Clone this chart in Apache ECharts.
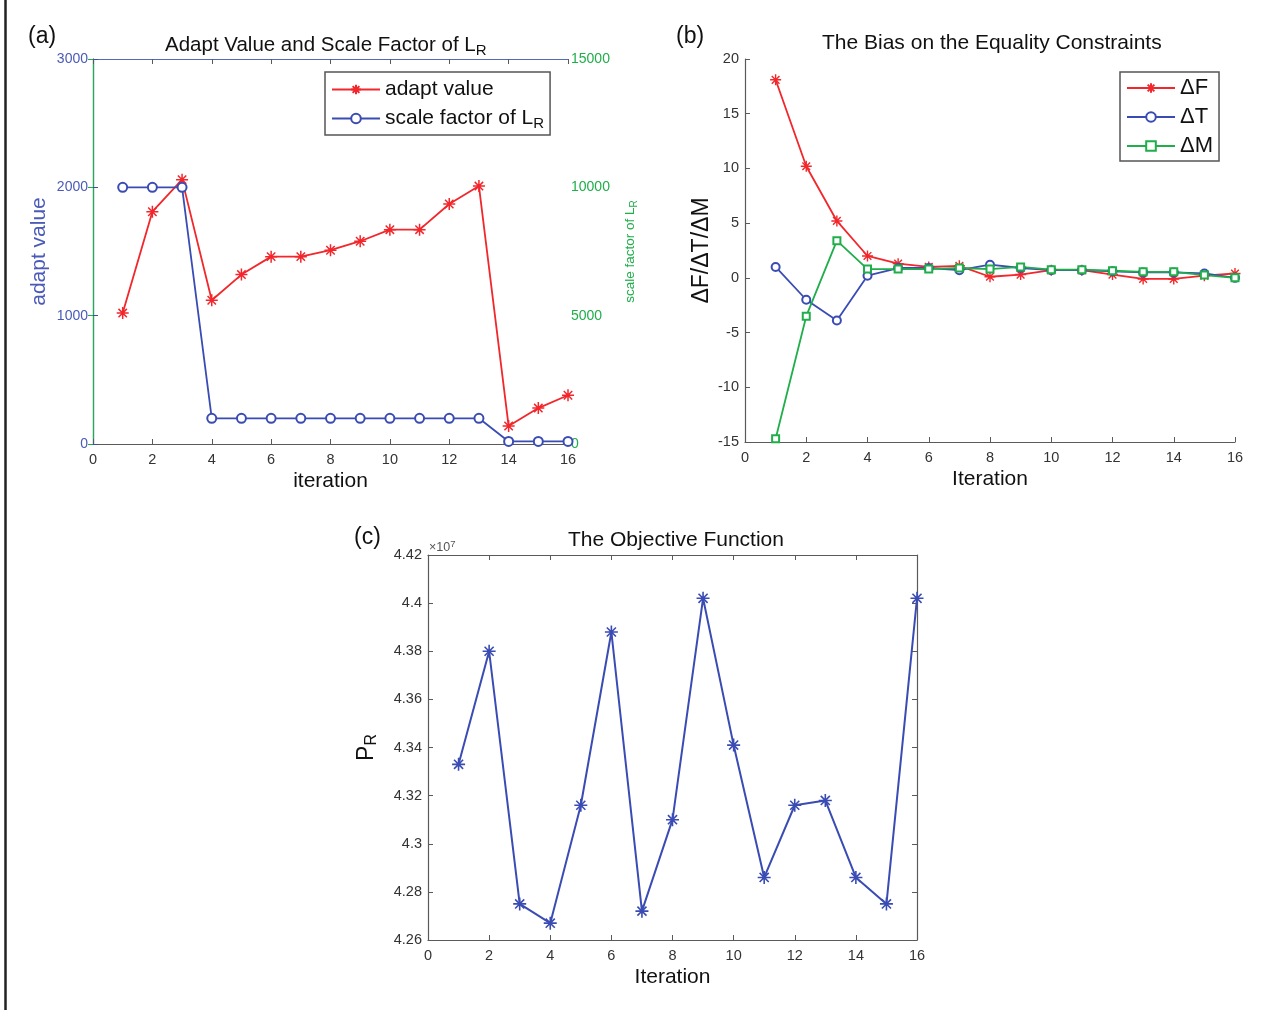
<!DOCTYPE html>
<html>
<head>
<meta charset="utf-8">
<script src="https://cdn.jsdelivr.net/npm/echarts@6/dist/echarts.min.js"></script>
<style>
  html, body { margin: 0; padding: 0; background: #fff; }
  #main { width: 1264px; height: 1010px; }
</style>
</head>
<body>
<div id="main"></div>
<script>
// iteration index shared by all three panels
const iterations = [1, 2, 3, 4, 5, 6, 7, 8, 9, 10, 11, 12, 13, 14, 15, 16];

// (a) adapt value (left axis) and scale factor of L_R (right axis)
const adaptValue = [1020, 1810, 2060, 1120, 1320, 1460, 1460, 1510, 1580, 1670, 1670, 1870, 2010, 140, 280, 380];
const scaleFactor = [10000, 10000, 10000, 1000, 1000, 1000, 1000, 1000, 1000, 1000, 1000, 1000, 1000, 100, 100, 100];

// (b) bias on the equality constraints
const deltaF = [18.1, 10.2, 5.2, 2.0, 1.3, 1.0, 1.1, 0.1, 0.3, 0.7, 0.7, 0.3, -0.1, -0.1, 0.2, 0.4];
const deltaT = [1.0, -2.0, -3.9, 0.2, 0.9, 0.9, 0.7, 1.2, 0.9, 0.7, 0.7, 0.6, 0.5, 0.5, 0.4, 0.0];
const deltaM = [-14.7, -3.5, 3.4, 0.8, 0.8, 0.8, 0.9, 0.8, 1.0, 0.75, 0.75, 0.65, 0.55, 0.55, 0.25, 0.0];

// (c) objective function P_R, in units of 10^7
const objective = [4.333, 4.380, 4.275, 4.267, 4.316, 4.388, 4.272, 4.310, 4.402, 4.341, 4.286, 4.316, 4.318, 4.286, 4.275, 4.402];

const RED = '#f2262b';
const BLUE = '#3a4cb4';
const GREEN = '#1fae4a';
const GRAY = '#5a5a5a';
const FONT = 'Liberation Sans, Arial, sans-serif';
const STAR = 'path://M0,5L10,5M5,0L5,10M1.5,1.5L8.5,8.5M1.5,8.5L8.5,1.5';

const pairs = vals => iterations.map((it, i) => [it, vals[i]]);

const chart = echarts.init(document.getElementById('main'));

function xAx(grid, opts) {
  return Object.assign({
    gridIndex: grid, type: 'value', min: 0, max: 16, interval: 2,
    axisLine: { onZero: false, lineStyle: { color: GRAY, width: 1.2 } },
    axisTick: { inside: true, length: 5, lineStyle: { color: GRAY } },
    axisLabel: { color: '#333', fontSize: 14.5, fontFamily: FONT, margin: 8 },
    splitLine: { show: false },
    nameLocation: 'middle', nameGap: 27,
    nameTextStyle: { color: '#111', fontSize: 21, fontFamily: FONT }
  }, opts);
}

const sub = {
  n: { fontSize: 21, fontFamily: FONT, color: '#111' },
  s: { fontSize: 15, fontFamily: FONT, color: '#111', padding: [10, 0, 0, 0] }
};

const option = {
  animation: false,
  backgroundColor: '#fff',
  textStyle: { fontFamily: FONT },
  title: [
    { text: '{n|Adapt Value and Scale Factor of L}{s|R}', left: 160, top: 27,
      textStyle: { rich: {
        n: { fontSize: 20.5, fontWeight: 'normal', fontFamily: FONT, color: '#111' },
        s: { fontSize: 15, fontWeight: 'normal', fontFamily: FONT, color: '#111', padding: [11, 0, 0, 0] } } } },
    { text: 'The Bias on the Equality Constraints', left: 817, top: 28,
      textStyle: { fontSize: 21, fontWeight: 'normal', color: '#111', fontFamily: FONT } },
    { text: 'The Objective Function', left: 563, top: 525,
      textStyle: { fontSize: 21, fontWeight: 'normal', color: '#111', fontFamily: FONT } }
  ],
  legend: [
    {
      data: ['adapt value', 'scale factor of L_R'],
      left: 325, top: 72, orient: 'vertical', selectedMode: false,
      itemWidth: 48, itemHeight: 12, itemGap: 8,
      padding: [7, 6, 4, 6],
      borderColor: '#555', borderWidth: 1.5, backgroundColor: '#fff',
      formatter: name => name === 'scale factor of L_R' ? '{n|scale factor of L}{s|R}' : '{n|' + name + '}',
      textStyle: { rich: sub }
    },
    {
      data: ['ΔF', 'ΔT', 'ΔM'],
      left: 1120, top: 72, orient: 'vertical', selectedMode: false,
      itemWidth: 48, itemHeight: 12, itemGap: 7,
      padding: [5, 6, 4, 6],
      borderColor: '#555', borderWidth: 1.5, backgroundColor: '#fff',
      textStyle: { fontSize: 22, color: '#111', fontFamily: FONT }
    }
  ],
  grid: [
    { left: 93, top: 59, width: 475, height: 385 },
    { left: 745, top: 59, width: 490, height: 383 },
    { left: 428, top: 555, width: 489, height: 385 }
  ],
  xAxis: [
    xAx(0, { name: 'iteration' }),
    xAx(0, { position: 'top', axisLabel: { show: false },
             axisLine: { onZero: false, lineStyle: { color: '#5868b8', width: 1.2 } } }),
    xAx(1, { name: 'Iteration' }),
    xAx(2, { name: 'Iteration' }),
    xAx(2, { position: 'top', axisLabel: { show: false } })
  ],
  yAxis: [
    {
      gridIndex: 0, type: 'value', min: 0, max: 3000, interval: 1000, position: 'left',
      axisLine: { show: true, lineStyle: { color: BLUE, width: 1.2 } },
      axisTick: { show: true, inside: true, length: 5, lineStyle: { color: BLUE } },
      axisLabel: { color: '#4a5ab8', fontSize: 14, fontFamily: FONT, margin: 5, formatter: v => String(v) },
      splitLine: { show: false },
      name: 'adapt value', nameLocation: 'middle', nameGap: 43,
      nameTextStyle: { color: '#4a5ab8', fontSize: 21, fontFamily: FONT }
    },
    {
      gridIndex: 0, type: 'value', min: 0, max: 15000, interval: 5000, position: 'right',
      axisLine: { show: true, lineStyle: { color: GREEN, width: 1.2 } },
      axisTick: { show: true, inside: true, length: 5, lineStyle: { color: GREEN } },
      axisLabel: { color: GREEN, fontSize: 14, fontFamily: FONT, margin: 3, formatter: v => String(v) },
      splitLine: { show: false },
      name: '{n|scale factor of L}{s|R}', nameLocation: 'middle', nameGap: 54,
      nameTextStyle: { rich: {
        n: { fontSize: 13.5, color: GREEN, fontFamily: FONT },
        s: { fontSize: 10, color: GREEN, fontFamily: FONT, padding: [7, 0, 0, 0] } } }
    },
    {
      gridIndex: 1, type: 'value', min: -15, max: 20, interval: 5,
      axisLine: { show: true, onZero: false, lineStyle: { color: GRAY, width: 1.2 } },
      axisTick: { show: true, inside: true, length: 5, lineStyle: { color: GRAY } },
      axisLabel: { color: '#333', fontSize: 14.5, fontFamily: FONT, margin: 6 },
      splitLine: { show: false },
      name: 'ΔF/ΔT/ΔM', nameLocation: 'middle', nameGap: 32,
      nameTextStyle: { color: '#111', fontSize: 23, fontFamily: FONT }
    },
    {
      gridIndex: 2, type: 'value', min: 4.26, max: 4.42, interval: 0.02,
      axisLine: { show: true, onZero: false, lineStyle: { color: GRAY, width: 1.2 } },
      axisTick: { show: true, inside: true, length: 5, lineStyle: { color: GRAY } },
      axisLabel: { color: '#333', fontSize: 14.5, fontFamily: FONT, margin: 6,
                   formatter: v => String(+v.toFixed(2)) },
      splitLine: { show: false },
      name: '{n|P}{s|R}', nameLocation: 'middle', nameGap: 48,
      nameTextStyle: { rich: {
        n: { fontSize: 23, color: '#111', fontFamily: FONT },
        s: { fontSize: 16, color: '#111', fontFamily: FONT, padding: [11, 0, 0, 0] } } }
    },
    {
      gridIndex: 2, type: 'value', min: 4.26, max: 4.42, interval: 0.02, position: 'right',
      axisLine: { show: true, onZero: false, lineStyle: { color: GRAY, width: 1.2 } },
      axisTick: { show: true, inside: true, length: 5, lineStyle: { color: GRAY } },
      axisLabel: { show: false },
      splitLine: { show: false }
    }
  ],
  graphic: [
    { type: 'line', shape: { x1: 5.5, y1: 0, x2: 5.5, y2: 1010 }, style: { stroke: '#222', lineWidth: 2.5 } },
    { type: 'text', left: 28, top: 25, style: { text: '(a)', fontSize: 23, fill: '#111', fontFamily: FONT } },
    { type: 'text', left: 676, top: 25, style: { text: '(b)', fontSize: 23, fill: '#111', fontFamily: FONT } },
    { type: 'text', left: 354, top: 526, style: { text: '(c)', fontSize: 23, fill: '#111', fontFamily: FONT } },
    { type: 'text', left: 429, top: 539, style: {
        text: '×10{p|7}', fontSize: 12.5, fill: '#555', fontFamily: FONT,
        rich: { p: { fontSize: 9.5, fill: '#555', fontFamily: FONT, padding: [0, 0, 8, 0] } } } }
  ],
  series: [
    {
      name: 'adapt value', type: 'line', xAxisIndex: 0, yAxisIndex: 0,
      data: pairs(adaptValue), color: RED,
      symbol: STAR, symbolSize: 12,
      itemStyle: { color: RED, borderColor: RED, borderWidth: 1.5 },
      lineStyle: { color: RED, width: 1.8 }
    },
    {
      name: 'scale factor of L_R', type: 'line', xAxisIndex: 0, yAxisIndex: 1,
      data: pairs(scaleFactor), color: BLUE,
      symbol: 'emptyCircle', symbolSize: 9,
      itemStyle: { color: BLUE, borderWidth: 1.5 },
      lineStyle: { color: BLUE, width: 1.8 }
    },
    {
      name: 'ΔF', type: 'line', xAxisIndex: 2, yAxisIndex: 2,
      data: pairs(deltaF), color: RED,
      symbol: STAR, symbolSize: 11,
      itemStyle: { color: RED, borderColor: RED, borderWidth: 1.4 },
      lineStyle: { color: RED, width: 1.8 }
    },
    {
      name: 'ΔT', type: 'line', xAxisIndex: 2, yAxisIndex: 2,
      data: pairs(deltaT), color: BLUE,
      symbol: 'emptyCircle', symbolSize: 8,
      itemStyle: { color: BLUE, borderWidth: 1.4 },
      lineStyle: { color: BLUE, width: 1.8 }
    },
    {
      name: 'ΔM', type: 'line', xAxisIndex: 2, yAxisIndex: 2,
      data: pairs(deltaM), color: GREEN,
      symbol: 'emptyRect', symbolSize: 7,
      itemStyle: { color: GREEN, borderWidth: 1.4 },
      lineStyle: { color: GREEN, width: 1.8 }
    },
    {
      name: 'P_R', type: 'line', xAxisIndex: 3, yAxisIndex: 3,
      data: pairs(objective), color: BLUE,
      symbol: STAR, symbolSize: 13,
      itemStyle: { color: BLUE, borderColor: BLUE, borderWidth: 1.6 },
      lineStyle: { color: BLUE, width: 2 }
    }
  ]
};

chart.setOption(option);
window.addEventListener('resize', () => chart.resize());
</script>
</body>
</html>
